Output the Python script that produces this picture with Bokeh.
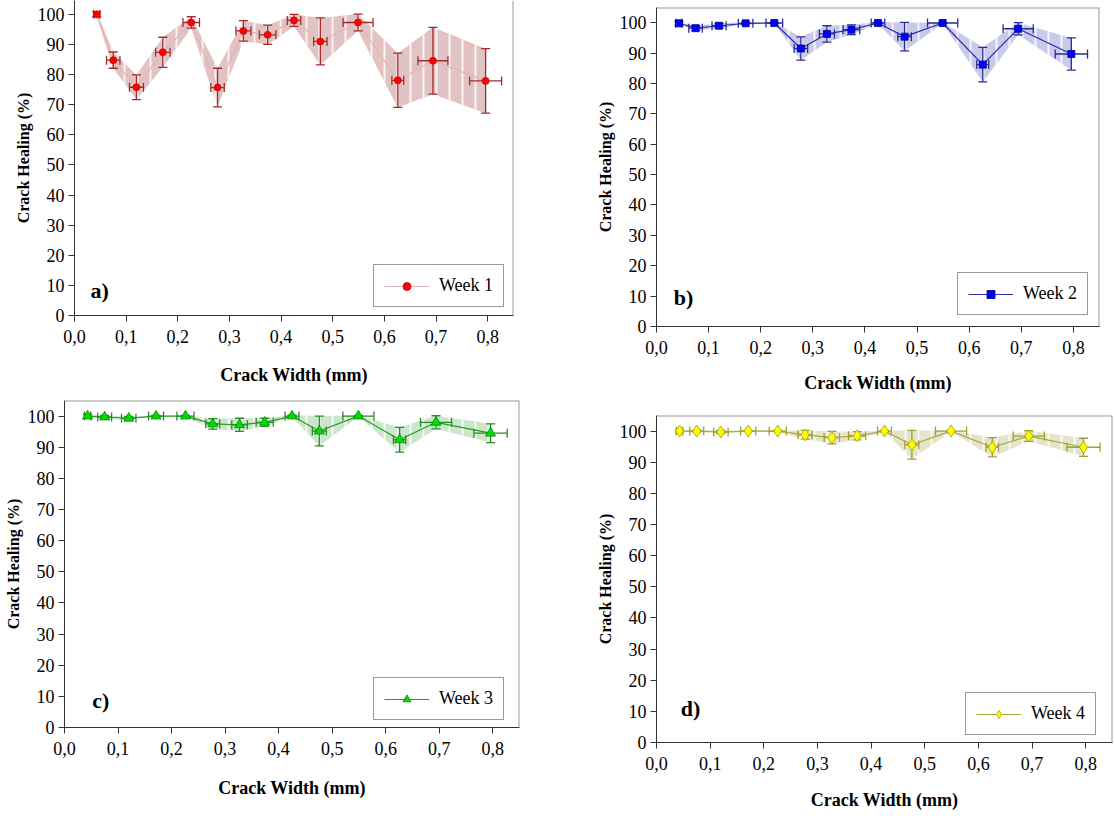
from bokeh.plotting import figure
from bokeh.layouts import column, row
from bokeh.models import (ColumnDataSource, Whisker, TeeHead, FixedTicker,
                          CustomJSTickFormatter, Span, Label, Range1d, Spacer)
from bokeh.embed import file_html
from bokeh.resources import INLINE

# ---------------- data ----------------
crack_width = [0.043, 0.075, 0.120, 0.171, 0.226, 0.277, 0.327, 0.374, 0.425, 0.476, 0.549, 0.626, 0.694, 0.796]
width_err = [0.006, 0.013, 0.0135, 0.014, 0.016, 0.013, 0.0145, 0.016, 0.013, 0.013, 0.029, 0.0115, 0.029, 0.031]

week1 = [100.0, 84.8, 75.8, 87.4, 97.3, 75.7, 94.5, 93.2, 98.0, 91.0, 97.3, 78.1, 84.6, 77.9]
week1_err = [0.8, 2.7, 4.1, 5.0, 1.9, 6.4, 3.4, 3.2, 2.0, 7.8, 2.8, 9.0, 11.1, 10.7]

week2 = [99.8, 98.2, 99.0, 99.8, 99.9, 91.5, 96.3, 97.7, 99.9, 95.4, 99.9, 86.2, 98.0, 89.7]
week2_err = [0.6, 0.8, 0.8, 0.3, 0.2, 3.8, 2.7, 1.6, 0.3, 4.7, 0.2, 5.7, 2.0, 5.3]

week3 = [100.0, 99.7, 99.3, 100.0, 100.0, 97.5, 97.2, 98.0, 100.0, 95.2, 100.0, 92.4, 98.0, 94.5]
week3_err = [0.5, 0.5, 0.6, 0.2, 0.2, 1.7, 2.1, 1.3, 0.3, 4.8, 0.2, 4.0, 2.1, 3.0]

week4 = [100.0, 100.0, 99.7, 100.0, 100.0, 98.8, 97.9, 98.5, 100.0, 95.6, 100.0, 94.8, 98.4, 94.8]
week4_err = [0.3, 0.3, 0.5, 0.2, 0.2, 1.4, 2.0, 1.3, 0.2, 4.6, 0.2, 3.1, 1.7, 2.9]

x_ticks = [0.0, 0.1, 0.2, 0.3, 0.4, 0.5, 0.6, 0.7, 0.8]
y_ticks = [0, 10, 20, 30, 40, 50, 60, 70, 80, 90, 100]

SERIF = "Liberation Serif"


def make_panel(yv, ye, label, tag, colors, marker, msize, width, height,
               borders, y_end, legend_xy, tag_xy, show_top, xlab_standoff):
    line_col, band_col, err_col, m_fill, m_line = colors
    bl, br, bt, bb = borders
    p = figure(width=width, height=height, x_range=Range1d(0, 0.85),
               y_range=Range1d(0, y_end), output_backend="svg",
               toolbar_location=None, min_border_left=bl, min_border_right=br,
               min_border_top=bt, min_border_bottom=bb)
    p.background_fill_color = "white"
    p.border_fill_color = "white"
    p.outline_line_color = None
    p.grid.visible = False

    src = ColumnDataSource(dict(
        x=crack_width, y=yv,
        lo=[v - e for v, e in zip(yv, ye)], hi=[v + e for v, e in zip(yv, ye)],
        xlo=[v - e for v, e in zip(crack_width, width_err)],
        xhi=[v + e for v, e in zip(crack_width, width_err)]))

    p.varea(x="x", y1="lo", y2="hi", source=src, fill_color=band_col,
            hatch_pattern="|", hatch_color="white", hatch_scale=13,
            hatch_weight=2, hatch_alpha=0.8)
    p.line("x", "y", source=src, line_color=line_col, line_width=1.2,
           legend_label=label)

    for base, lo, hi, dim in (("x", "lo", "hi", "height"), ("y", "xlo", "xhi", "width")):
        w = Whisker(base=base, lower=lo, upper=hi, source=src, dimension=dim,
                    line_color=err_col, line_width=1.3,
                    upper_head=TeeHead(size=9, line_color=err_col, line_width=1.3),
                    lower_head=TeeHead(size=9, line_color=err_col, line_width=1.3))
        w.level = "annotation"
        p.add_layout(w)

    sc = p.scatter("x", "y", source=src, marker=marker, size=msize,
                   fill_color=m_fill, line_color=m_line, line_width=0.8,
                   legend_label=label)
    sc.level = "overlay"

    # frame borders (right, top)
    p.add_layout(Span(location=0.85, dimension="height", line_color="#9a9a9a", line_width=2))
    if show_top:
        p.add_layout(Span(location=y_end, dimension="width", line_color="#9a9a9a", line_width=2))

    # axes
    p.xaxis.ticker = FixedTicker(ticks=x_ticks)
    p.xaxis.formatter = CustomJSTickFormatter(code="return tick.toFixed(1).replace('.', ',');")
    p.yaxis.ticker = FixedTicker(ticks=y_ticks)
    for ax in (p.xaxis, p.yaxis):
        ax.axis_line_color = "#333333"
        ax.major_tick_line_color = "#333333"
        ax.major_tick_out = 6
        ax.major_tick_in = 0
        ax.minor_tick_line_color = None
        ax.major_label_text_font = SERIF
        ax.major_label_text_font_size = "18px"
        ax.major_label_text_color = "black"
        ax.axis_label_text_font = SERIF
        ax.axis_label_text_font_style = "bold"
        ax.axis_label_text_color = "black"
    p.xaxis.axis_label = "Crack Width (mm)"
    p.xaxis.axis_label_text_font_size = "18px"
    p.xaxis.major_label_standoff = 8
    p.xaxis.axis_label_standoff = xlab_standoff
    p.yaxis.axis_label = "Crack Healing (%)"
    p.yaxis.axis_label_text_font_size = "16px"
    p.yaxis.major_label_standoff = 4
    p.yaxis.axis_label_standoff = 3

    # legend
    lg = p.legend[0]
    lg.location = legend_xy
    lg.margin = 0
    lg.padding = 10
    lg.spacing = 0
    lg.glyph_width = 45
    lg.glyph_height = 20
    lg.label_standoff = 10
    lg.label_text_font = SERIF
    lg.label_text_font_size = "18px"
    lg.label_text_color = "black"
    lg.border_line_color = "#333333"
    lg.border_line_width = 1
    lg.background_fill_color = "white"
    lg.background_fill_alpha = 1.0

    p.add_layout(Label(x=tag_xy[0], y=tag_xy[1], text=tag, text_font=SERIF,
                       text_font_style="bold", text_font_size="22px",
                       text_baseline="middle", text_color="black"))
    return p


# A: frame x 74..513, y 0..317
pa = make_panel(week1, week1_err, "Week 1", "a)",
                ("#e6b4b4", "#e2c3c3", "#a52a2a", "#ff0000", "#b01010"),
                "circle", 7, 560, 387, (74, 47, 0, 70), 104.6,
                (299, 8), (0.031, 8.3), False, 19)
# B: frame x 656..1099, y 7..329
pb = make_panel(week2, week2_err, "Week 2", "b)",
                ("#2a2ab8", "#c9c9e8", "#2a2a9a", "#0000ff", "#000080"),
                "square", 7, 549, 388, (96, 10, 0, 66), 105,
                (301, 11), (0.033, 9.5), True, 16)
# C: frame x 64..519, y 400..727
pc = make_panel(week3, week3_err, "Week 3", "c)",
                ("#22a022", "#cbe6cb", "#2a8a2a", "#00dd00", "#008800"),
                "triangle", 10, 560, 403, (64, 41, 0, 76), 105,
                (309, 7), (0.052, 8.7), True, 20)
# D: frame x 656..1112, y 415..742
pd_ = make_panel(week4, week4_err, "Week 4", "d)",
                 ("#a8a838", "#e3e4c9", "#a0a030", "#ffff00", "#a0a000"),
                 "diamond", 12, 554, 399, (96, 2, 0, 72), 105,
                 (309, 7), (0.045, 10.9), True, 17)

top_row = row(column(pa), column(Spacer(width=549, height=7), pb))
bottom_row = row(column(Spacer(width=560, height=5), pc),
                 column(Spacer(width=554, height=20), pd_))
layout = column(top_row, bottom_row)
open("out.html", "w").write(file_html(layout, INLINE))
